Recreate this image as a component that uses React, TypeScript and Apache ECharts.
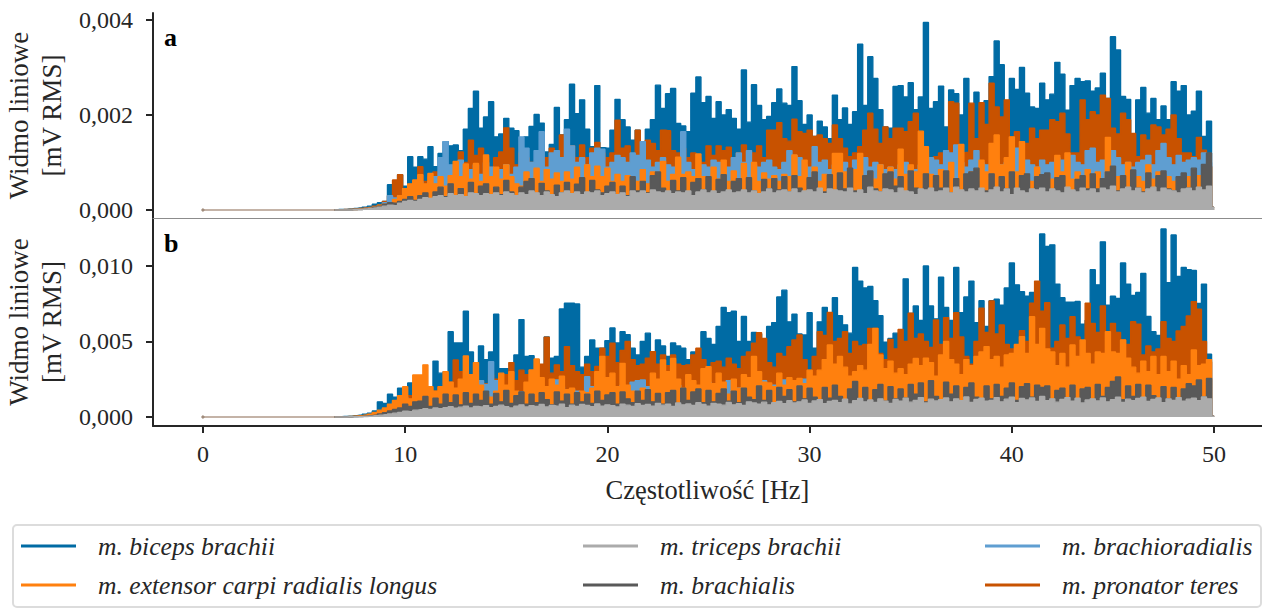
import React, { useEffect, useRef } from "react";
import * as echarts from "echarts";

// All spectrum values are in units of 1e-5 mV RMS, one per 0.25 Hz bin, from 6.5 Hz to 50 Hz.
const START_HZ = 6.5;
const STEP_HZ = 0.25;
const UNIT = 1e-5;

const bicepsA = [
  0,1,1,2,3,4,6,8,12,15, 18,53,39,74,50,112,90,112,107,133,
  91,119,144,135,137,125,170,214,250,172, 196,228,154,160,193,172,167,145,154,176,
  201,183,122,138,216,158,190,265,203,232, 170,133,262,131,130,168,233,190,175,147,
  168,133,170,190,263,214,245,256,182,177, 165,246,280,226,239,193,228,200,211,193,
  170,295,185,264,220,190,197,226,255,225, 220,302,230,180,200,155,187,175,150,242,
  190,215,180,207,349,220,323,277,211,175, 172,260,262,238,268,211,238,395,214,228,
  261,175,253,245,200,277,155,248,210,230, 281,356,306,225,277,254,300,246,217,214,
  267,232,244,311,286,210,262,277,270,272, 250,257,288,235,365,337,239,233,158,232,
  258,204,235,190,219,190,270,250,262,200, 208,250,155,187,5,
];
const pronatorA = [
  0,0,1,1,2,3,4,5,8,10, 18,30,63,74,40,45,60,91,60,70,
  80,75,85,90,80,122,100,147,115,130, 110,90,110,122,173,130,95,120,110,100,
  90,100,110,130,100,158,120,135,110,137, 110,130,142,120,110,120,189,130,135,110,
  168,110,147,140,125,168,167,125,120,130, 110,120,110,100,135,115,135,125,132,110,
  120,137,125,120,135,110,168,168,184,150, 145,191,165,161,168,155,158,150,140,179,
  150,130,112,120,133,168,204,170,140,175, 150,172,172,165,186,204,140,126,110,112,
  120,115,228,225,120,121,225,150,226,180, 267,217,196,232,154,165,140,140,172,150,
  168,168,190,186,204,160,120,120,232,190, 207,200,242,235,172,160,204,190,161,112,
  158,147,179,175,158,170,200,150,120,120, 112,153,126,92,5,
];
const brachioradA = [
  0,0,0,1,1,2,3,4,6,8, 15,30,25,30,45,50,55,60,50,60,
  70,110,144,95,90,105,80,85,95,75, 100,90,80,85,95,75,90,154,130,100,
  125,165,90,120,125,110,170,135,100,110, 95,120,130,128,90,100,115,110,100,120,
  115,144,105,90,100,110,95,90,110,165, 100,85,85,95,90,105,100,85,90,110,
  120,100,125,95,90,100,105,90,85,100, 125,115,110,95,90,133,100,105,85,95,
  90,100,85,105,95,110,90,100,95,85, 90,85,95,100,90,85,95,100,110,105,
  95,125,120,137,100,90,105,125,100,95, 90,105,95,100,110,130,100,105,95,90,
  105,95,100,110,105,90,115,100,95,125, 130,100,105,90,125,110,95,100,90,100,
  105,115,95,125,140,110,95,115,100,105, 110,105,120,100,5,
];
const extensorA = [
  0,0,0,1,1,2,3,4,6,10, 12,14,22,30,45,55,63,74,55,77,
  55,70,50,72,102,70,97,65,98,60, 116,70,90,65,95,70,55,50,80,65,
  88,60,85,65,78,60,80,65,90,60, 95,70,92,70,88,60,75,60,72,55,
  60,85,55,80,65,102,60,75,111,75, 80,70,118,70,60,90,65,105,60,82,
  60,98,65,100,60,78,65,72,60,75, 70,116,70,105,65,90,60,75,70,119,
  119,80,65,85,119,70,80,65,95,70, 90,65,128,75,95,80,166,133,75,65,
  85,65,100,65,138,65,80,70,105,80, 140,158,95,110,154,80,144,65,60,90,
  65,75,65,115,80,120,65,80,60,85, 70,80,65,153,65,70,60,100,65,70,
  60,95,65,80,75,70,60,65,55,70, 60,72,55,90,5,
];
const brachialisA = [
  0,0,0,0,1,1,2,3,5,8, 12,15,14,18,22,28,20,30,36,20,
  38,48,28,55,30,45,25,58,32,50, 55,28,48,32,62,38,28,48,60,66,
  32,56,40,24,52,36,58,30,54,68, 34,62,42,36,50,58,26,50,30,70,
  40,60,36,72,80,46,34,62,40,68, 34,58,66,42,70,36,64,74,38,60,
  66,32,68,40,34,64,44,66,42,70, 38,72,46,34,68,80,42,38,74,36,
  78,44,88,40,36,72,82,44,38,76, 80,50,70,36,82,46,34,76,40,72,
  46,82,36,66,34,76,80,88,44,40, 76,36,70,44,80,34,72,76,40,70,
  74,78,36,68,72,40,34,64,72,44, 76,44,66,80,92,40,72,44,84,46,
  38,78,42,72,82,44,40,70,78,46, 88,44,96,120,5,
];
const tricepsA = [
  0,0,0,0,1,1,2,3,4,6, 8,10,9,14,18,20,18,22,26,24,
  28,30,26,34,30,32,28,36,34,30, 34,32,36,30,38,34,30,36,32,40,
  36,30,38,32,28,36,40,34,38,32, 38,36,40,30,34,38,32,36,28,40,
  36,40,34,42,38,36,40,34,38,36, 40,30,38,42,36,40,34,38,42,36,
  38,42,36,40,34,38,44,36,40,42, 38,44,36,40,42,38,46,34,44,42,
  40,38,46,36,42,34,48,40,38,44, 42,36,46,40,38,32,44,42,46,38,
  40,46,36,48,42,38,44,40,46,36, 42,48,38,44,32,46,40,36,44,42,
  46,38,44,40,36,48,42,38,46,40, 44,36,46,42,50,38,44,48,40,46,
  36,44,48,38,46,42,40,36,44,46, 40,48,42,50,5,
];

const bicepsB = [
  1,2,3,5,8,12,18,25,40,100, 90,150,130,190,180,225,150,200,190,170,
  370,290,300,565,490,490,700,430,300,470, 380,430,680,320,320,320,410,645,400,405,
  380,330,530,390,400,715,753,753,748,330, 400,510,455,455,505,590,490,565,545,455,
  410,500,555,430,510,470,400,490,470,455, 380,430,400,565,520,480,600,725,690,700,
  500,665,500,560,550,515,600,625,795,840, 630,680,550,543,690,455,630,725,640,790,
  670,610,555,990,900,855,865,770,670,495, 520,555,500,915,685,735,640,1000,735,650,
  925,725,640,990,690,795,900,625,770,600, 770,780,740,855,1020,875,830,800,825,700,
  1212,1130,1140,880,790,760,760,765,615,640, 975,875,1160,740,800,785,1020,880,805,825,
  950,665,565,540,1245,890,1205,930,990,975, 970,752,880,415,5,
];
const pronatorB = [
  0,1,1,2,4,6,10,15,25,35, 50,70,80,100,120,140,120,150,130,160,
  170,200,180,230,378,300,260,250,230,240, 220,280,250,230,280,360,240,310,280,260,
  300,350,528,290,345,300,466,340,300,280, 350,300,335,455,400,488,360,440,500,380,
  340,350,390,433,350,410,340,410,350,340, 345,410,455,380,330,360,370,330,390,350,
  320,400,430,488,558,520,360,330,420,400, 465,510,543,380,310,400,565,540,693,500,
  520,565,420,500,470,480,587,587,420,380, 514,450,580,500,687,520,550,500,460,642,
  480,658,520,691,530,400,350,500,720,560, 768,550,609,480,450,455,572,500,753,900,
  700,757,455,500,609,520,664,530,470,753, 620,560,735,500,620,560,510,480,631,615,
  410,470,430,450,631,520,500,570,600,669, 764,713,500,366,5,
];
const brachioradB = [
  0,0,1,1,2,4,7,12,18,30, 40,60,100,120,130,110,160,125,145,130,
  155,140,130,160,180,150,190,267,180,240, 215,366,240,190,200,170,160,165,150,200,
  225,190,170,200,245,200,160,185,170,130, 267,200,180,240,190,165,170,210,150,230,
  240,245,200,190,180,170,210,180,210,160, 190,150,170,180,230,170,150,195,240,170,
  190,180,170,245,160,240,180,210,185,245, 160,190,205,250,230,200,180,170,160,200,
  200,210,250,190,160,180,220,200,225,170, 160,180,190,170,200,280,255,280,190,210,
  200,180,230,190,170,160,245,200,210,190, 255,200,170,180,255,210,190,250,377,200,
  180,190,210,190,245,205,210,200,170,190, 210,160,180,230,190,170,200,220,190,200,
  240,265,280,250,200,190,230,235,200,180, 190,210,170,260,5,
];
const extensorB = [
  0,1,2,3,5,8,12,18,30,45, 60,85,110,140,200,120,278,278,345,200,
  170,200,300,230,190,250,404,280,360,210, 150,130,170,290,210,300,170,150,230,311,
  384,260,200,250,210,270,180,190,150,170, 160,190,300,400,260,290,200,355,210,170,
  150,190,170,290,250,377,300,388,250,190, 280,240,210,320,333,220,290,230,150,250,
  190,280,260,400,300,230,225,200,290,210, 260,240,255,220,310,270,310,380,477,350,
  400,330,270,300,340,310,480,587,410,320, 370,290,320,280,350,388,340,390,360,270,
  410,500,380,350,280,380,340,400,430,466, 380,400,330,410,420,480,532,420,664,480,
  587,450,430,340,420,330,477,400,510,420, 350,430,420,565,430,420,510,390,330,290,
  370,300,400,280,400,300,370,250,340,280, 444,340,350,380,5,
];
const brachialisB = [
  0,0,1,1,2,3,5,8,12,20, 28,40,50,60,85,70,100,105,135,70,
  125,85,150,95,145,80,160,90,150,110, 170,85,155,100,175,90,140,165,85,150,
  95,160,115,80,165,105,150,85,160,100, 150,90,170,110,145,160,85,165,120,95,
  170,110,180,100,155,85,160,175,90,190, 110,165,185,95,175,100,155,185,105,170,
  95,190,130,115,205,110,175,90,195,135, 180,100,205,120,190,130,95,195,125,210,
  135,110,185,235,120,195,100,180,215,105, 200,120,185,125,215,150,225,100,240,135,
  115,230,150,205,105,195,225,130,95,205, 120,215,135,190,225,110,200,220,130,210,
  195,205,100,175,190,105,210,120,185,195, 105,215,135,195,235,265,115,205,135,215,
  115,210,140,100,200,120,195,110,185,220, 205,245,130,255,5,
];
const tricepsB = [
  0,0,0,1,1,2,3,5,8,12, 15,20,25,30,38,35,45,48,55,50,
  60,55,62,68,58,65,72,60,70,66, 75,62,70,78,68,60,72,80,66,75,
  70,82,66,76,72,85,62,78,70,82, 76,68,86,72,80,74,66,84,78,70,
  88,76,82,72,90,78,84,70,92,80, 86,76,94,82,72,90,84,78,96,80,
  88,76,100,92,84,98,80,94,102,88, 108,92,100,112,90,106,115,88,102,110,
  95,118,86,108,122,100,112,96,120,105, 90,116,104,125,98,110,128,92,118,106,
  114,126,100,120,108,132,96,116,124,104, 110,128,100,118,130,94,122,112,126,102,
  136,108,120,98,116,128,104,124,92,112, 120,106,126,100,114,130,96,118,108,122,
  130,102,116,126,94,120,110,128,104,118, 124,108,132,120,5,
];

const NAMES = {
  biceps: "m. biceps brachii",
  triceps: "m. triceps brachii",
  brachiorad: "m. brachioradialis",
  extensor: "m. extensor carpi radialis longus",
  brachialis: "m. brachialis",
  pronator: "m. pronator teres",
};
const COLORS = {
  biceps: "#006BA4",
  triceps: "#ABABAB",
  brachiorad: "#5F9ED1",
  extensor: "#FF800E",
  brachialis: "#595959",
  pronator: "#C85200",
};
const xTicks = [0, 10, 20, 30, 40, 50];
const yTicksA = [0, 0.002, 0.004];
const yTicksB = [0, 0.005, 0.01];
const panelLabels = ["a", "b"];
const yTitle = "Widmo liniowe\n[mV RMS]";
const xTitle = "Częstotliwość [Hz]";
const zeroLine = [[0, 0], [6.5, 0]];

const FONT = "Liberation Serif";
const INK = "#262626";

const toPoints = (vals: number[]) => vals.map((v, i) => [START_HZ + i * STEP_HZ, v * UNIT]);

const spectrum = (key: keyof typeof NAMES, vals: number[], idx: number, layer: number) => ({
  type: "line",
  name: NAMES[key],
  xAxisIndex: idx,
  yAxisIndex: idx,
  z: 3 + layer,
  data: toPoints(vals),
  step: "middle",
  showSymbol: false,
  silent: true,
  lineStyle: { color: COLORS[key], width: 1.4 },
  itemStyle: { color: COLORS[key] },
  areaStyle: { color: COLORS[key], opacity: 1 },
});

const baseline = (idx: number) => ({
  type: "line",
  xAxisIndex: idx,
  yAxisIndex: idx,
  z: 2,
  data: zeroLine,
  showSymbol: true,
  symbol: "diamond",
  symbolSize: (_v: unknown, p: { dataIndex: number }) => (p.dataIndex === 0 ? 4 : 0),
  silent: true,
  itemStyle: { color: "#a08c7c" },
  lineStyle: { color: "#b09a8a", width: 1.5 },
});

const panelSeries = (
  idx: number,
  sets: [number[], number[], number[], number[], number[], number[]],
) => [
  baseline(idx),
  spectrum("biceps", sets[0], idx, 0),
  spectrum("pronator", sets[1], idx, 1),
  spectrum("brachiorad", sets[2], idx, 2),
  spectrum("extensor", sets[3], idx, 3),
  spectrum("brachialis", sets[4], idx, 4),
  spectrum("triceps", sets[5], idx, 5),
];

const fmt = (v: number) => v.toFixed(3).replace(".", ",");

const yAxis = (idx: number, min: number, max: number, ticks: number[]) => ({
  type: "value",
  gridIndex: idx,
  min,
  max,
  name: yTitle,
  nameLocation: "middle",
  nameRotate: 90,
  nameGap: 84,
  nameTextStyle: { fontFamily: FONT, fontSize: 27, color: INK, lineHeight: 33 },
  splitLine: { show: false },
  axisLine: { show: true, onZero: false, lineStyle: { color: INK, width: 2 } },
  axisTick: { show: true, length: 7, lineStyle: { color: INK, width: 2 }, customValues: ticks },
  axisLabel: {
    customValues: ticks,
    formatter: fmt,
    fontFamily: FONT,
    fontSize: 24,
    color: INK,
    margin: 20,
  },
});

const xMin = -2.47;
const xMax = 52.37;

const legendRows = [
  [NAMES.biceps, COLORS.biceps, 21, 546],
  [NAMES.extensor, COLORS.extensor, 21, 585],
  [NAMES.triceps, COLORS.triceps, 583, 546],
  [NAMES.brachialis, COLORS.brachialis, 583, 585],
  [NAMES.brachiorad, COLORS.brachiorad, 985, 546],
  [NAMES.pronator, COLORS.pronator, 985, 585],
] as [string, string, number, number][];

export default function App() {
  const ref = useRef<HTMLDivElement>(null);
  useEffect(() => {
    const chart = echarts.init(ref.current!, null, { renderer: "svg" });
    chart.setOption({
      animation: false,
      backgroundColor: "#fff",
      grid: [
        { left: 153, right: 0, top: 13, height: 205, outerBoundsMode: "none" },
        { left: 153, right: 0, top: 218, height: 208, outerBoundsMode: "none" },
      ],
      xAxis: [
        {
          type: "value",
          gridIndex: 0,
          min: xMin,
          max: xMax,
          axisLine: { show: true, onZero: false, lineStyle: { color: "#8c8c8c", width: 1 } },
          axisTick: { show: false },
          axisLabel: { show: false },
          splitLine: { show: false },
        },
        {
          type: "value",
          gridIndex: 1,
          min: xMin,
          max: xMax,
          name: xTitle,
          nameLocation: "middle",
          nameGap: 50,
          nameTextStyle: { fontFamily: FONT, fontSize: 26.5, color: INK },
          axisLine: { show: true, onZero: false, lineStyle: { color: INK, width: 2 } },
          axisTick: { show: true, length: 7, lineStyle: { color: INK, width: 2 }, customValues: xTicks },
          axisLabel: {
            customValues: xTicks,
            fontFamily: FONT,
            fontSize: 24,
            color: INK,
            margin: 16,
          },
          splitLine: { show: false },
        },
      ],
      yAxis: [
        yAxis(0, -0.00017, 0.00415, yTicksA),
        yAxis(1, -0.0006, 0.01318, yTicksB),
      ],
      series: [
        ...panelSeries(0, [bicepsA, pronatorA, brachioradA, extensorA, brachialisA, tricepsA]),
        ...panelSeries(1, [bicepsB, pronatorB, brachioradB, extensorB, brachialisB, tricepsB]),
      ],
      graphic: [
        {
          type: "text",
          x: 164,
          y: 24,
          style: { text: panelLabels[0], font: `bold 26px "${FONT}"`, fill: "#000" },
        },
        {
          type: "text",
          x: 164,
          y: 230,
          style: { text: panelLabels[1], font: `bold 26px "${FONT}"`, fill: "#000" },
        },
        {
          type: "rect",
          shape: { x: 13, y: 525, width: 1248, height: 82, r: 4 },
          style: { fill: "#fff", stroke: "#dcdcdc", lineWidth: 2 },
        },
        ...legendRows.flatMap(([label, color, x, y]) => [
          {
            type: "line",
            shape: { x1: x, y1: y, x2: x + 55, y2: y },
            style: { stroke: color, lineWidth: 3 },
          },
          {
            type: "text",
            x: x + 77,
            y: y,
            style: {
              text: label,
              font: `italic 25.6px "${FONT}"`,
              fill: INK,
              verticalAlign: "middle",
            },
          },
        ]),
      ],
    });
    return () => chart.dispose();
  }, []);
  return (
    <div
      ref={ref}
      style={{ position: "fixed", left: 0, top: 0, width: 1262, height: 608 }}
    />
  );
}
